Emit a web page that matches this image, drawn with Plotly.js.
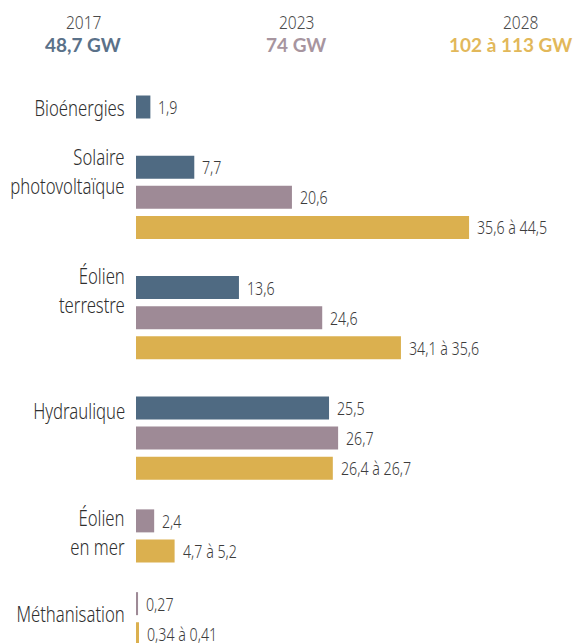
<!DOCTYPE html>
<html><head><meta charset="utf-8">
<script src="https://cdn.plot.ly/plotly-3.0.1.min.js"></script>
<style>html,body{margin:0;padding:0;background:#fff}#chart{width:575px;height:643px}</style>
</head><body><div id="chart"></div>
<script>
// ---- data ----
const categories = ["Bioénergies", "Solaire<br>photovoltaïque", "Éolien<br>terrestre", "Hydraulique", "Éolien<br>en mer", "Méthanisation"];
const years = ["2017", "2023", "2028"];
const yearTotals = ["48,7 GW", "74 GW", "102 à 113 GW"];
const values2017 = [1.9, 7.7, 13.6, 25.5, null, null];
const values2023 = [null, 20.6, 24.6, 26.7, 2.4, 0.27];
const values2028 = [null, 44.0, 35.0, 26.0, 5.1, 0.4]; // bar length as drawn
const labels2017 = ["1,9", "7,7", "13,6", "25,5", null, null];
const labels2023 = [null, "20,6", "24,6", "26,7", "2,4", "0,27"];
const labels2028 = [null, "35,6 à 44,5", "34,1 à 35,6", "26,4 à 26,7", "4,7 à 5,2", "0,34 à 0,41"];

// ---- style / layout ----
const colors = ["#4f6a82", "#9e8a96", "#dbb04f"];
const totalColors = ["#5a7189", "#a7959f", "#e2b85a"];
const groupGap = [1, 1, 1, 0.75, 0.75];
const labelOffset = [0.01, 0.105, 0.055, 0.07, 0.355, 0.3];
const narrow = "Noto Sans, sans-serif";
const W = 575, H = 643, plotLeft = 136, pxPerGW = 7.57, slotPx = 30.1, firstPx = 107;

const series = [values2017, values2023, values2028];
const seriesLabels = [labels2017, labels2023, labels2028];
const pos = series.map(() => categories.map(() => null));
const labelPos = [];
let s = 0;
categories.forEach((c, i) => {
  let first = null;
  series.forEach((vals, k) => {
    if (vals[i] !== null) { pos[k][i] = s; if (first === null) first = s; s += 1; }
  });
  labelPos.push(first + labelOffset[i]);
  if (i < groupGap.length) s += groupGap[i];
});

const traces = series.map((vals, k) => ({
  type: "bar", orientation: "h",
  x: vals, y: pos[k],
  width: 23 / slotPx,
  marker: { color: colors[k] },
  hoverinfo: "skip", name: years[k]
}));

const annotations = [];
const condense = []; // horizontal condensing factor per annotation (emulates a condensed face)
series.forEach((vals, k) => {
  vals.forEach((v, i) => {
    if (v === null) return;
    annotations.push({
      x: v, y: pos[k][i], xref: "x", yref: "y", xanchor: "left", yanchor: "middle",
      xshift: 6, showarrow: false, text: seriesLabels[k][i],
      font: { family: narrow, size: 18, weight: 300, color: "#3c3c3c" }
    });
    condense.push(0.79);
  });
});
categories.forEach((c, i) => {
  annotations.push({
    x: 127 / W, y: labelPos[i], xref: "paper", yref: "y", xanchor: "right", yanchor: "middle",
    align: "right", showarrow: false, text: c,
    font: { family: narrow, size: 22, weight: 300, color: "#2f2f2f" }
  });
  condense.push(0.76);
});
const headerX = [83, 296, 520];
const totalX = [83, 296, 510];
years.forEach((yr, k) => {
  annotations.push({
    x: headerX[k] / W, y: 1 - 22 / H, xref: "paper", yref: "paper", xanchor: "center", yanchor: "middle",
    showarrow: false, text: yr, font: { family: narrow, size: 19, weight: 300, color: "#4a4a4a" }
  });
  condense.push(0.82);
  annotations.push({
    x: totalX[k] / W, y: 1 - 45 / H, xref: "paper", yref: "paper", xanchor: "center", yanchor: "middle",
    showarrow: false, text: yearTotals[k], font: { family: "Lato, sans-serif", size: 19, weight: 700, color: totalColors[k] }
  });
  condense.push(1);
});

const layout = {
  width: W, height: H,
  margin: { l: 0, r: 0, t: 0, b: 0 },
  paper_bgcolor: "#fff", plot_bgcolor: "#fff",
  showlegend: false, barmode: "overlay",
  xaxis: { domain: [plotLeft / W, 1], range: [0, (W - plotLeft) / pxPerGW], visible: false, fixedrange: true },
  yaxis: { range: [(H - firstPx) / slotPx, -firstPx / slotPx], visible: false, fixedrange: true },
  annotations: annotations
};
Plotly.newPlot("chart", traces, layout, { displayModeBar: false, staticPlot: true }).then(gd => {
  gd.querySelectorAll("g.annotation").forEach(g => {
    const idx = +g.getAttribute("data-index");
    const f = condense[idx];
    if (!f || f === 1) return;
    const t = g.querySelector("text.annotation-text");
    const a = annotations[idx];
    t.style.transformBox = "fill-box";
    t.style.transformOrigin = a.xanchor === "left" ? "left center" : a.xanchor === "right" ? "right center" : "center center";
    t.style.transform = "scaleX(" + f + ")";
  });
});
</script>
</body></html>
